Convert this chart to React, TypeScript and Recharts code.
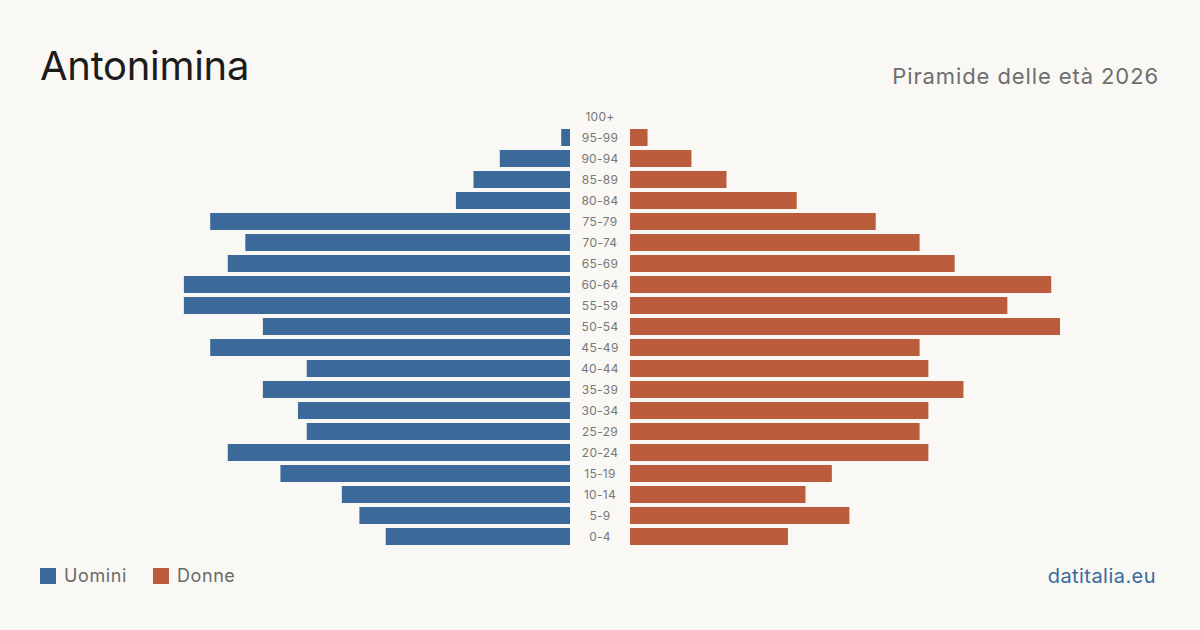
import React from "react";
import { BarChart, Bar, XAxis, YAxis } from "recharts";

// Age classes, top to bottom
const ageGroups = [
  "100+", "95-99", "90-94", "85-89", "80-84", "75-79", "70-74", "65-69",
  "60-64", "55-59", "50-54", "45-49", "40-44", "35-39", "30-34", "25-29",
  "20-24", "15-19", "10-14", "5-9", "0-4",
];

// Residents by age class
const men = [0, 1, 8, 11, 13, 41, 37, 39, 44, 44, 35, 41, 30, 35, 31, 30, 39, 33, 26, 24, 21];
const women = [0, 2, 7, 11, 19, 28, 33, 37, 48, 43, 49, 33, 34, 38, 34, 33, 34, 23, 20, 25, 18];

const BG = "#f9f8f4";
const BLUE = "#3b6a9a";
const ORANGE = "#bb5d3c";
const FONT = "Inter, 'Noto Sans', sans-serif";

const data = ageGroups.map((age, i) => ({ age, m: men[i], f: women[i] }));
const maxValue = Math.max(...men, ...women);

const PLOT_TOP = 106;
const PLOT_H = 441;
const SIDE_W = 430;
const LABEL_W = 60;

const AgeTick = (props: any) => {
  const { x, y, payload } = props;
  return (
    <text
      x={x - LABEL_W / 2}
      y={y}
      textAnchor="middle"
      dominantBaseline="central"
      fontSize={12}
      letterSpacing={0.3}
      fill="#777"
      fontFamily={FONT}
    >
      {payload.value}
    </text>
  );
};

export default function App() {
  return (
    <div
      style={{
        position: "absolute",
        left: 0,
        top: 0,
        width: 1200,
        height: 630,
        background: BG,
        fontFamily: FONT,
        overflow: "hidden",
      }}
    >
      <div style={{ position: "absolute", left: 40, top: 40, fontSize: 40, color: "#1c1c1c", lineHeight: "52px", letterSpacing: -0.3 }}>
        Antonimina
      </div>
      <div style={{ position: "absolute", right: 41, top: 62, fontSize: 22, color: "#6e6e6e", lineHeight: "28px", letterSpacing: 0.9 }}>
        Piramide delle età 2026
      </div>

      {/* Men: bars grow to the left */}
      <div style={{ position: "absolute", left: 600 - LABEL_W / 2 - SIDE_W, top: PLOT_TOP }}>
        <BarChart
          layout="vertical"
          width={SIDE_W}
          height={PLOT_H}
          data={data}
          margin={{ top: 0, right: 0, bottom: 0, left: 0 }}
          barCategoryGap={4}
        >
          <XAxis type="number" domain={[0, maxValue]} reversed hide />
          <YAxis type="category" dataKey="age" hide />
          <Bar dataKey="m" fill={BLUE} barSize={17} isAnimationActive={false} />
        </BarChart>
      </div>

      {/* Women: bars grow to the right, age labels in the centre column */}
      <div style={{ position: "absolute", left: 600 - LABEL_W / 2, top: PLOT_TOP }}>
        <BarChart
          layout="vertical"
          width={SIDE_W + LABEL_W}
          height={PLOT_H}
          data={data}
          margin={{ top: 0, right: 0, bottom: 0, left: 0 }}
          barCategoryGap={4}
        >
          <XAxis type="number" domain={[0, maxValue]} hide />
          <YAxis
            type="category"
            dataKey="age"
            width={LABEL_W}
            axisLine={false}
            tickLine={false}
            tickSize={0}
            tickMargin={0}
            interval={0}
            tick={<AgeTick />}
          />
          <Bar dataKey="f" fill={ORANGE} barSize={17} isAnimationActive={false} />
        </BarChart>
      </div>

      {/* Legend */}
      <div style={{ position: "absolute", left: 40, top: 564, display: "flex", alignItems: "center", fontSize: 18, color: "#6a6a6a", lineHeight: "24px", letterSpacing: 0.6 }}>
        <span style={{ width: 16, height: 16, background: BLUE, display: "inline-block", marginRight: 8 }} />
        <span style={{ marginRight: 26 }}>Uomini</span>
        <span style={{ width: 16, height: 16, background: ORANGE, display: "inline-block", marginRight: 8 }} />
        <span>Donne</span>
      </div>

      <div style={{ position: "absolute", right: 44, top: 562, fontSize: 20, color: BLUE, lineHeight: "28px", letterSpacing: 0.45 }}>
        datitalia.eu
      </div>
    </div>
  );
}
